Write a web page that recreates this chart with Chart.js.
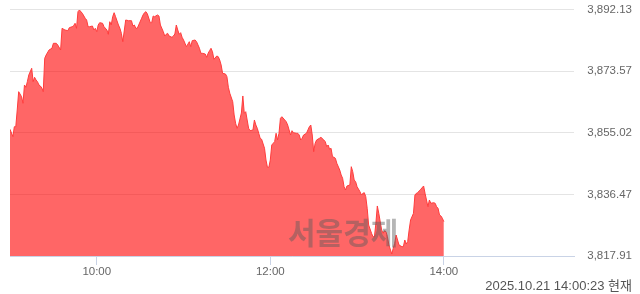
<!DOCTYPE html>
<html>
<head>
<meta charset="utf-8">
<script src="https://cdn.jsdelivr.net/npm/chart.js@4.4.0/dist/chart.umd.min.js"></script>
<style>
  body { margin: 0; background: #fff; }
  #wrap { position: relative; width: 640px; height: 294px; }
  #stamp {
    position: absolute; right: 8px; top: 278px;
    font: 13px "Liberation Sans", "Noto Sans CJK KR", sans-serif;
    color: #555; line-height: 16px; white-space: nowrap;
  }
  #mark {
    position: absolute; left: 288px; top: 212px;
    font: bold 30px "Noto Sans CJK KR", sans-serif;
    color: rgba(90, 90, 90, 0.45); line-height: 38px;
    pointer-events: none;
  }
</style>
</head>
<body>
<div id="wrap">
  <canvas id="kospi"></canvas>
  <div id="mark">서울경제</div>
  <div id="stamp">2025.10.21 14:00:23 현재</div>
</div>
<script>
// 9:00 기준 경과 분
const minutes = [0,2,3,4,5,6,8,9,10,11,12,13,15,16,17,18,19,20,21,22,23,24,25,27,29,30,32,33,35,36,38,40,41,43,44,45,46,47,48,50,52,53,54,55,57,58,59,60,61,62,64,65,67,68,69,70,71,72,73,75,76,77,78,80,82,84,85,86,87,88,89,91,92,93,94,95,97,98,99,100,102,103,104,106,107,108,109,110,112,113,114,115,116,117,118,119,120,121,122,124,125,126,128,129,130,131,132,133,135,136,137,138,139,140,141,143,144,145,146,147,149,150,151,152,154,155,156,157,158,160,161,162,163,164,165,166,168,169,170,171,172,173,174,176,177,178,179,180,181,183,184,185,186,187,188,190,191,192,193,194,195,196,198,199,200,201,202,203,205,206,207,208,209,210,211,212,214,215,217,218,219,220,221,222,223,224,225,226,228,229,230,231,232,233,235,236,237,238,239,240,242,243,244,245,246,247,248,250,251,252,253,254,255,257,258,259,260,261,262,264,265,266,267,268,269,271,272,273,274,275,276,277,279,280,281,282,283,284,286,287,288,289,290,291,293,294,295,296,297,298,299,300];
const values = [3856.06,3853.83,3856.84,3856.84,3861.87,3867.38,3865.88,3863.89,3869.40,3868.71,3870.39,3872.41,3874.43,3870.39,3871.72,3870.90,3870.39,3869.40,3869.10,3868.49,3867.38,3877.44,3878.43,3879.94,3880.45,3881.95,3881.95,3881.44,3879.94,3886.47,3885.96,3885.75,3886.65,3886.95,3887.25,3887.98,3886.47,3891.47,3891.98,3890.99,3889.48,3888.97,3886.95,3886.95,3887.16,3885.96,3886.47,3885.45,3887.46,3888.16,3887.98,3886.95,3885.96,3884.66,3888.46,3887.46,3889.96,3891.17,3889.96,3887.46,3886.47,3884.96,3882.44,3888.97,3888.76,3888.76,3887.16,3887.46,3886.47,3886.47,3887.46,3889.48,3890.48,3891.17,3891.47,3890.78,3888.16,3888.16,3890.17,3889.96,3890.48,3890.17,3887.46,3885.45,3884.15,3884.66,3884.96,3884.15,3883.76,3884.15,3884.75,3887.46,3885.96,3884.66,3885.15,3883.76,3882.95,3881.95,3880.93,3882.44,3880.93,3882.74,3882.95,3882.44,3881.44,3880.45,3878.94,3878.94,3878.73,3877.74,3878.94,3879.73,3880.45,3879.42,3877.14,3878.13,3877.92,3876.93,3875.42,3872.92,3872.71,3871.90,3868.71,3866.90,3864.37,3860.37,3857.87,3856.36,3857.35,3860.97,3866.09,3860.88,3861.36,3858.86,3856.36,3855.64,3855.85,3858.86,3857.35,3856.36,3854.86,3853.35,3853.05,3850.34,3846.82,3844.62,3844.62,3846.82,3851.33,3852.33,3854.86,3852.84,3854.86,3859.37,3859.85,3858.86,3858.35,3857.35,3855.85,3854.34,3855.64,3855.04,3854.86,3854.86,3854.34,3852.84,3853.35,3854.34,3854.86,3855.85,3856.84,3857.35,3854.34,3849.31,3851.84,3852.84,3853.35,3853.65,3852.84,3852.33,3850.82,3851.33,3850.04,3850.34,3847.81,3847.63,3847.33,3845.82,3843.80,3842.30,3841.31,3838.78,3837.78,3838.99,3839.29,3844.80,3843.29,3840.79,3840.28,3838.78,3837.27,3836.28,3836.79,3836.97,3835.77,3832.27,3827.24,3824.74,3823.72,3823.72,3827.76,3832.97,3830.77,3825.74,3824.74,3825.53,3825.23,3823.72,3821.22,3818.51,3820.23,3821.73,3824.23,3822.73,3821.22,3820.71,3820.71,3822.73,3821.52,3822.22,3825.74,3828.75,3830.77,3836.28,3836.79,3836.97,3837.57,3837.99,3838.99,3836.79,3834.77,3832.75,3834.77,3833.78,3833.96,3833.78,3832.75,3832.27,3830.26,3829.95,3829.26,3828.24];

const xTickMinutes = [60, 180, 300];
const xTickLabels = ["10:00", "12:00", "14:00"];
const yTicks = [3817.91, 3836.47, 3855.02, 3873.57, 3892.13];

new Chart(document.getElementById("kospi"), {
    type: "line",
    data: {
        datasets: [{
            data: minutes.map((m, i) => ({ x: m, y: values[i] })),
            borderColor: "#ff3c3c",
            backgroundColor: "rgba(255, 0, 0, 0.6)",
            borderWidth: 1,
            pointRadius: 0,
            tension: 0,
            fill: "start"
        }]
    },
    options: {
        responsive: true,
        maintainAspectRatio: false,
        animation: false,
        layout: { padding: { left: 10, right: 8, top: 9.5, bottom: 0 } },
        plugins: { legend: { display: false }, tooltip: { enabled: false } },
        scales: {
            x: {
                type: "linear",
                min: 0,
                max: 390,
                afterBuildTicks: s => { s.ticks = xTickMinutes.map(v => ({ value: v })); },
                afterFit: s => { s.height = 38; },
                grid: { drawOnChartArea: false, drawTicks: true, tickLength: 9, color: "#c9d3e6" },
                border: { color: "#c9d3e6" },
                ticks: {
                    padding: 0,
                    maxRotation: 0,
                    color: "#666",
                    font: { family: "Liberation Sans", size: 11.5 },
                    callback: v => xTickLabels[xTickMinutes.indexOf(v)]
                }
            },
            y: {
                position: "right",
                min: 3817.91,
                max: 3892.13,
                afterBuildTicks: s => { s.ticks = yTicks.map(v => ({ value: v })); },
                afterFit: s => { s.width = 58; },
                grid: { drawTicks: false, color: "#e4e4e4" },
                border: { display: false },
                ticks: {
                    crossAlign: "far",
                    padding: 0,
                    color: "#666",
                    font: { family: "Liberation Sans", size: 11.5 },
                    callback: v => v.toLocaleString("en-US", { minimumFractionDigits: 2, maximumFractionDigits: 2 })
                }
            }
        }
    }
});
</script>
</body>
</html>
